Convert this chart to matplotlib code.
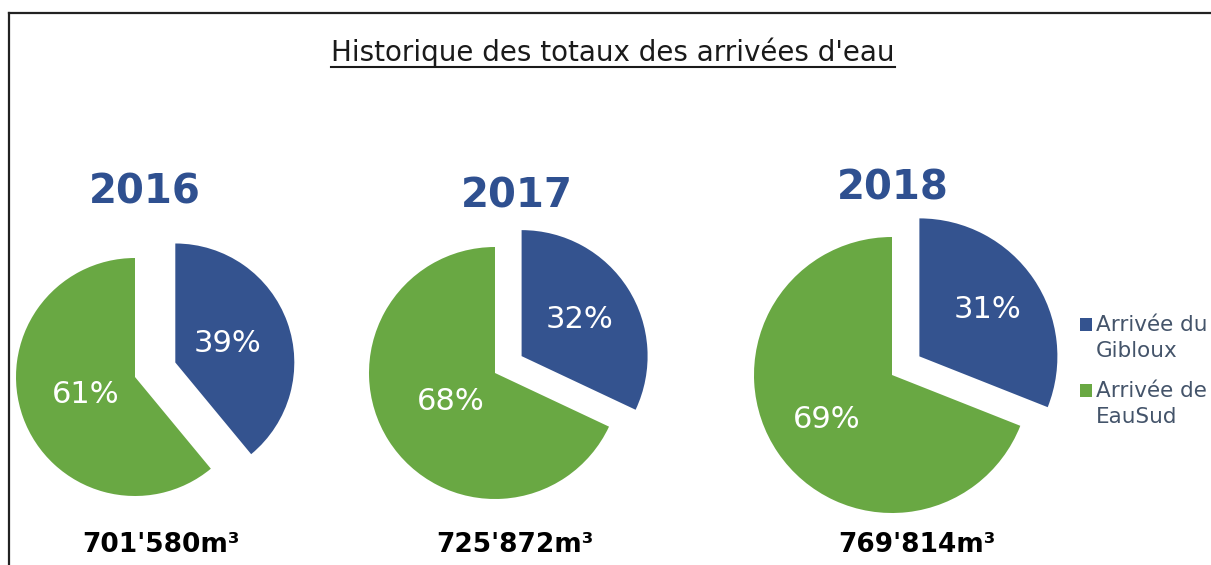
import numpy as np
import matplotlib.pyplot as plt
from matplotlib.lines import Line2D
from matplotlib.patches import Rectangle, Wedge
from matplotlib.legend_handler import HandlerPatch

# data
years = ['2016', '2017', '2018']
gibloux = [39, 32, 31]
eausud = [61, 68, 69]
totals = ["701'580m³", "725'872m³", "769'814m³"]
series = ['Arrivée du\nGibloux', 'Arrivée de\nEauSud']
title = "Historique des totaux des arrivées d'eau"

# colours
c_blue = '#34538f'
c_green = '#69a843'
c_year = '#2f5090'
c_legend = '#44546a'

# layout, in pixels from the top-left corner
W, H = 1211, 565
centers = [(135, 377), (495, 373), (892, 375)]
radii = [119, 126, 138]
explode = [0.36, 0.25, 0.24]   # fraction of the radius
pct_dist = [(0.47, 0.44), (0.54, 0.42), (0.60, 0.57)]
year_pos = [(145, 193), (517, 196), (893, 188)]
total_pos = [(161, 545), (515, 545), (917, 545)]

fig = plt.figure(figsize=(W / 100, H / 100), dpi=100)
ax = fig.add_axes([0, 0, 1, 1])

handles = None
for i in range(3):
    cx, cy = centers[i]
    # explode is in data units when a radius is given
    wedges, _ = ax.pie([gibloux[i], eausud[i]],
                       colors=[c_blue, c_green],
                       explode=[explode[i] * radii[i], 0],
                       startangle=90, counterclock=False,
                       center=(cx, H - cy), radius=radii[i],
                       frame=True,
                       wedgeprops=dict(linewidth=0))
    if handles is None:
        handles = wedges
    vals = [gibloux[i], eausud[i]]
    for w, v, d in zip(wedges, vals, pct_dist[i]):
        th = np.deg2rad((w.theta1 + w.theta2) / 2)
        x = w.center[0] + d * w.r * np.cos(th)
        y = w.center[1] + d * w.r * np.sin(th)
        ax.text(x, y, '{:d}%'.format(v), color='white', fontsize=22,
                ha='center', va='center')

    ax.text(year_pos[i][0], H - year_pos[i][1], years[i], color=c_year,
            fontsize=29, fontweight='bold', ha='center', va='center')
    ax.text(total_pos[i][0], H - total_pos[i][1], totals[i], color='black',
            fontsize=19, fontweight='bold', ha='center', va='center')

ax.set_xlim(0, W)
ax.set_ylim(0, H)
ax.set_aspect('equal')
ax.axis('off')

# title with underline
t = fig.text(613 / W, 1 - 52 / H, title, fontsize=20, color='#1a1a1a',
             ha='center', va='center')
fig.canvas.draw()
bb = t.get_window_extent()
fig.add_artist(Line2D([bb.x0 / W, bb.x1 / W], [1 - 67 / H, 1 - 67 / H],
                      transform=fig.transFigure, color='#1a1a1a', lw=1.5))

# outer frame (only top and left are visible)
fig.add_artist(Line2D([9 / W, 1.02], [1 - 13 / H, 1 - 13 / H],
                      transform=fig.transFigure, color='#222222', lw=1.6))
fig.add_artist(Line2D([9 / W, 9 / W], [1 - 13 / H, -0.02],
                      transform=fig.transFigure, color='#222222', lw=1.6))


# legend squares sit on the first line of each two-line label
def top_square(legend, orig_handle, xdescent, ydescent, width, height,
               fontsize):
    return Rectangle((-xdescent, -ydescent + 0.65 * fontsize), width, height)


leg = fig.legend(handles, series, loc='upper left',
                 bbox_to_anchor=(1080 / W, 1 - 315 / H),
                 frameon=False, fontsize=15.5, handlelength=0.55,
                 handleheight=0.55, handletextpad=0.2, labelspacing=0.95,
                 borderaxespad=0, borderpad=0,
                 handler_map={Wedge: HandlerPatch(patch_func=top_square)})
for txt in leg.get_texts():
    txt.set_color(c_legend)
    txt.set_linespacing(1.35)

fig.savefig('out.png', dpi=100, facecolor='white')
